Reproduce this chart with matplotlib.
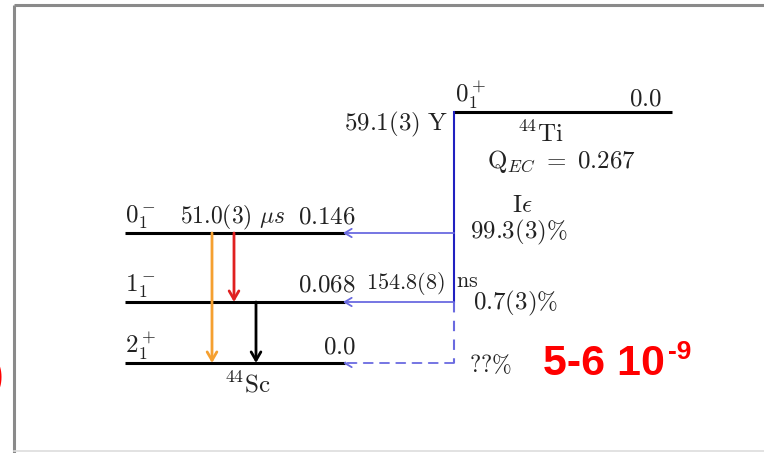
import matplotlib
matplotlib.use("Agg")
import matplotlib.pyplot as plt

plt.rcParams['mathtext.fontset'] = 'cm'

# 44Sc levels (MeV), spins, half-lives
sc_spins = [r'$0_1^-$', r'$1_1^-$', r'$2_1^+$']
sc_energies = [0.146, 0.068, 0.0]
sc_halflives = [r'$51.0(3)\ \mu s$', r'$154.8(8)$', '']
# EC branching from 44Ti
branches = [r'$99.3(3)\%$', r'$0.7(3)\%$', r'$??\%$']
# 44Ti ground state
ti_spin = r'$0_1^+$'
ti_energy = 0.0
ti_halflife = r'$59.1(3)\ \mathrm{Y}$'
q_ec = 0.267
note = '5-6 10'
note_exp = '-9'

# layout (pixel-like coords)
level_y = [233, 302, 363]
ti_y = 112
x_left, x_right = 125, 345
x_ec = 454
ti_right = 672
ink = '#222222'
fs = 18

fig = plt.figure(figsize=(7.64, 4.53), dpi=100)
ax = fig.add_axes([0, 0, 1, 1])
ax.set_xlim(0, 764)
ax.set_ylim(453, 0)
ax.axis('off')

# frame
ax.plot([14, 14], [5, 453], color='#8a8a8a', lw=2.2, solid_capstyle='butt')
ax.plot([14, 764], [5, 5], color='#8a8a8a', lw=2.2, solid_capstyle='butt')
ax.plot([14, 764], [451, 451], color='#dddddd', lw=1.2)

# Sc levels
for i, y in enumerate(level_y):
    ax.plot([x_left, x_right], [y, y], color='black', lw=2.2, solid_capstyle='butt')
    ax.text(x_left, y - 10, sc_spins[i], fontsize=fs, color=ink, ha='left', va='baseline')
    ax.text(356, y - 10, f'${sc_energies[i]:g}$' if sc_energies[i] else '$0.0$',
            fontsize=fs, color=ink, ha='right', va='baseline')

ax.text(180, level_y[0] - 10, sc_halflives[0], fontsize=fs - 1, color=ink, ha='left', va='baseline')
ax.text(366, level_y[1] - 13, sc_halflives[1], fontsize=fs - 2, color=ink, ha='left', va='baseline')
ax.text(456, level_y[1] - 15, r'$\mathrm{ns}$', fontsize=fs - 2, color=ink, ha='left', va='baseline')
ax.text(247, 392, r'$^{44}\mathrm{Sc}$', fontsize=fs, color=ink, ha='center', va='baseline')

# gamma transitions
def gamma(x, y0, y1, c):
    ax.annotate('', xy=(x, y1), xytext=(x, y0),
                arrowprops=dict(arrowstyle='->,head_length=0.6,head_width=0.35', color=c, lw=2,
                                shrinkA=0, shrinkB=0))

gamma(212, level_y[0], level_y[2], '#f5a030')
gamma(234, level_y[0], level_y[1], '#e02020')
gamma(256, level_y[1], level_y[2], 'black')

# 44Ti level
ax.plot([x_ec, ti_right], [ti_y, ti_y], color='black', lw=2.2, solid_capstyle='butt')
ax.text(x_ec + 1, ti_y - 10, ti_spin, fontsize=fs, color=ink, ha='left', va='baseline')
ax.text(662, ti_y - 7, f'${ti_energy:.1f}$', fontsize=fs, color=ink, ha='right', va='baseline')
ax.text(448, 130, ti_halflife, fontsize=fs, color=ink, ha='right', va='baseline')
ax.text(540, 142, r'$^{44}\mathrm{Ti}$', fontsize=fs, color=ink, ha='center', va='baseline')
ax.text(561, 168, r'$\mathrm{Q}_{EC}\ =\ ' + f'{q_ec}' + '$', fontsize=fs, color=ink,
        ha='center', va='baseline')
ax.text(522, 212, r'$\mathrm{I}\epsilon$', fontsize=fs, color=ink, ha='center', va='baseline')

# EC feeding
ax.plot([x_ec, x_ec], [ti_y, level_y[1]], color='#2020c0', lw=1.5)
ax.plot([x_ec, x_ec], [level_y[1], level_y[2]], color='#6a6ae0', lw=1.5, ls=(0, (5, 4)))
for i, y in enumerate(level_y):
    ls = '-' if i < 2 else (0, (5, 4))
    ax.annotate('', xy=(x_right - 2, y), xytext=(x_ec, y),
                arrowprops=dict(arrowstyle='->,head_length=0.5,head_width=0.3', color='#6a6ae0',
                                lw=1.3, ls=ls, shrinkA=0, shrinkB=0))

ax.text(470, 238, branches[0], fontsize=fs, color=ink, ha='left', va='baseline')
ax.text(473, 309, branches[1], fontsize=fs, color=ink, ha='left', va='baseline')
ax.text(469, 372, branches[2], fontsize=fs - 1, color=ink, ha='left', va='baseline')

# red note
t = ax.text(543, 375, note, fontsize=31, color='#ff0000', fontweight='bold',
            family='Liberation Sans', ha='left', va='baseline')
ax.annotate(note_exp, xy=(1, 1), xycoords=t, xytext=(2, 3), textcoords='offset points',
            fontsize=19, color='#ff0000', fontweight='bold', family='Liberation Sans',
            ha='left', va='top')
# sliver of a red glyph cut by the left edge, as in the reference
ax.text(3, 388, ')', fontsize=29, color='#ff0000', fontweight='bold',
        family='Liberation Sans', ha='right', va='baseline', clip_on=False)

fig.savefig('out.png', dpi=100)
